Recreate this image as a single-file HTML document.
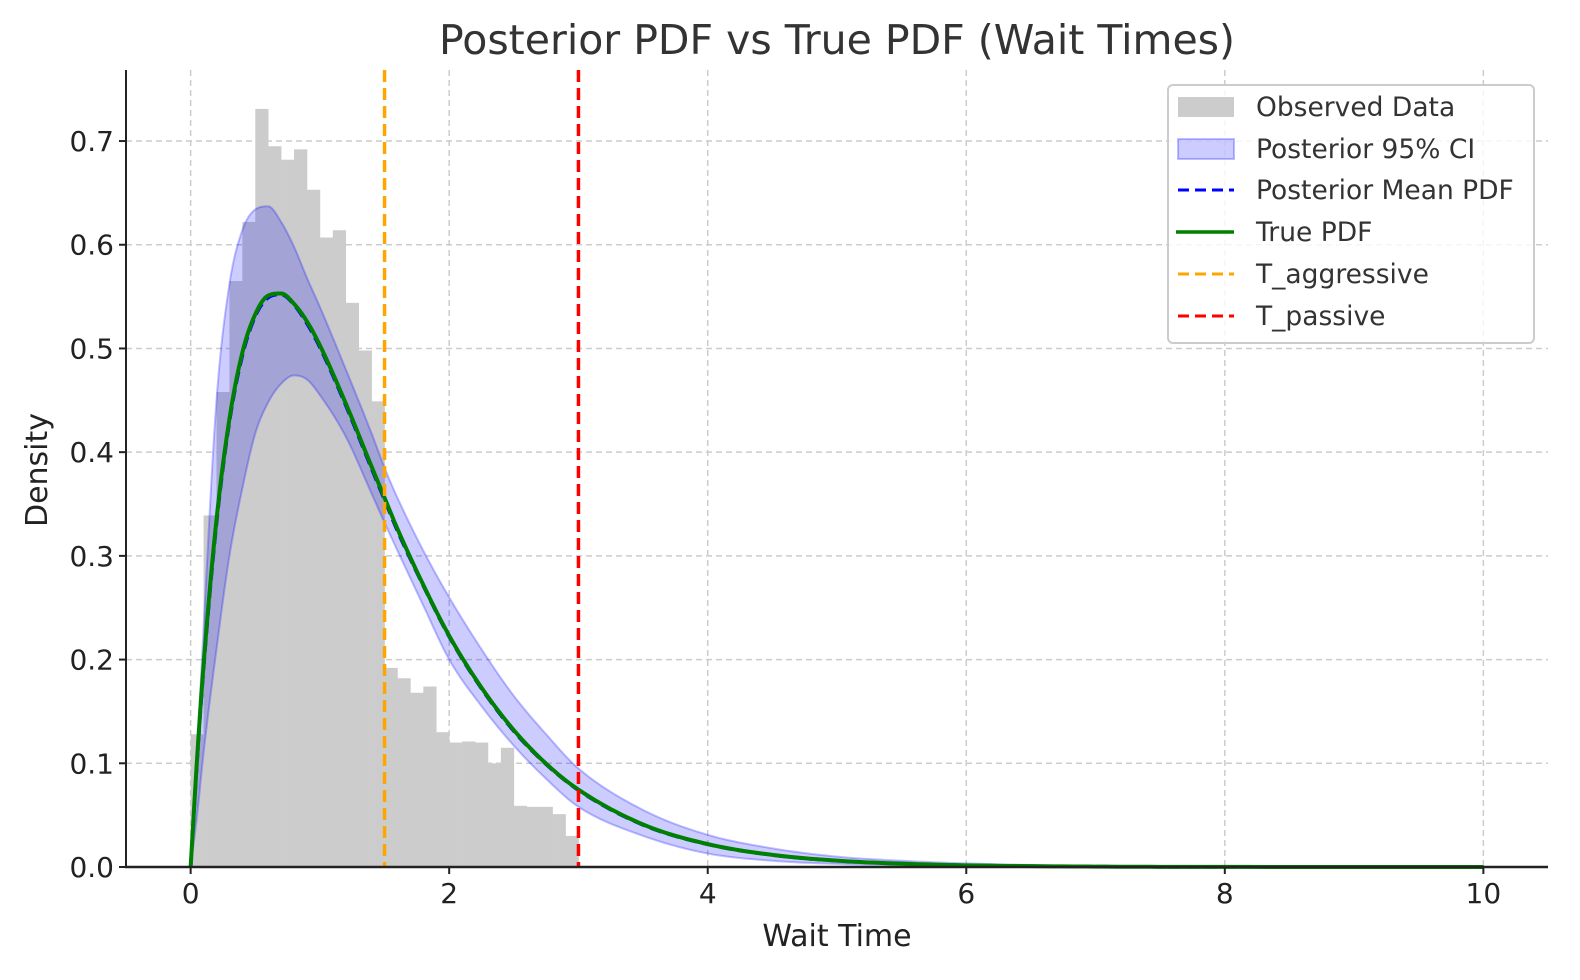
<!DOCTYPE html>
<html><head><meta charset="utf-8"><style>
html,body{margin:0;padding:0;background:#fff;}
svg{display:block;font-family:"DejaVu Sans","Liberation Sans",sans-serif;}
</style></head><body>
<svg id="chart" width="1580" height="980" viewBox="0 0 1580 980" xmlns="http://www.w3.org/2000/svg">
<text x="837" y="54" font-size="41" fill="#333" text-anchor="middle">Posterior PDF vs True PDF (Wait Times)</text>
<text x="837" y="946" font-size="30" fill="#222" text-anchor="middle">Wait Time</text>
<text x="47" y="470" font-size="30" fill="#222" text-anchor="middle" transform="rotate(-90 47 470)">Density</text>
<g id="grid"></g>
<g id="hist"></g>
<g id="band"></g>
<g id="lines"></g>
<g id="axes"></g>
<g id="legend">
<rect x="1168" y="85" width="366" height="258" rx="5" fill="#fff" fill-opacity="0.8" stroke="#ccc" stroke-width="2"/>
<rect x="1178" y="97" width="56" height="20" fill="#cccccc"/>
<text x="1256" y="116" font-size="26.5" fill="#333">Observed Data</text>
<rect x="1178" y="139" width="56" height="20" fill="rgba(0,0,255,0.2)" stroke="rgba(0,0,255,0.25)" stroke-width="2"/>
<text x="1256" y="158" font-size="26.5" fill="#333">Posterior 95% CI</text>
<line x1="1178" y1="190" x2="1234" y2="190" stroke="#0000ff" stroke-width="3" stroke-dasharray="11,6"/>
<text x="1256" y="199" font-size="26.5" fill="#333">Posterior Mean PDF</text>
<line x1="1176" y1="232" x2="1234" y2="232" stroke="#008000" stroke-width="3.5"/>
<text x="1256" y="241" font-size="26.5" fill="#333">True PDF</text>
<line x1="1178" y1="274" x2="1234" y2="274" stroke="#ffa500" stroke-width="3" stroke-dasharray="11,6"/>
<text x="1256" y="283" font-size="26.5" fill="#333">T_aggressive</text>
<line x1="1178" y1="316" x2="1234" y2="316" stroke="#ff0000" stroke-width="3" stroke-dasharray="11,6"/>
<text x="1256" y="325" font-size="26.5" fill="#333">T_passive</text>
</g>
</svg>
<script>
const binStart = 0, binWidth = 0.1;
const histHeights = [0.128,0.339,0.458,0.565,0.622,0.731,0.695,0.682,0.692,0.653,0.607,0.614,0.544,0.498,0.449,0.192,0.182,0.168,0.174,0.130,0.120,0.121,0.120,0.100,0.115,0.059,0.058,0.058,0.051,0.030];
const curveX = [0,0.05,0.1,0.2,0.3,0.4,0.5,0.6,0.7,0.8,0.9,1.0,1.2,1.4,1.5,1.6,1.8,2.0,2.25,2.5,2.75,3.0,3.5,4.0,4.5,5.0,5.5,6,7,8,10];
const truePdf = [0,0.105,0.195,0.335,0.432,0.496,0.533,0.551,0.553,0.543,0.526,0.503,0.447,0.386,0.356,0.326,0.272,0.223,0.173,0.132,0.0996,0.0746,0.041,0.0221,0.0117,0.0061,0.0032,0.0016,0.0004,0.0001,0];
const meanPdf = [0,0.102,0.191,0.331,0.429,0.493,0.531,0.549,0.552,0.542,0.524,0.501,0.445,0.384,0.354,0.324,0.271,0.222,0.172,0.131,0.099,0.074,0.0405,0.0218,0.0115,0.006,0.0031,0.0016,0.0004,0.0001,0];
const upperCI = [0,0.11,0.23,0.45,0.562,0.614,0.634,0.637,0.622,0.598,0.568,0.54,0.48,0.418,0.385,0.356,0.305,0.26,0.21,0.165,0.128,0.095,0.055,0.031,0.018,0.010,0.006,0.0035,0.001,0.0003,0];
const lowerCI = [0,0.05,0.11,0.21,0.30,0.365,0.418,0.448,0.466,0.474,0.470,0.455,0.415,0.36,0.332,0.305,0.252,0.20,0.155,0.117,0.085,0.058,0.030,0.013,0.006,0.003,0.0015,0.0007,0.0001,0,0];
const vlines = [1.5, 3.0];
const xTicks = [0,2,4,6,8,10];
const yTicks = [0,0.1,0.2,0.3,0.4,0.5,0.6,0.7];

const NS = "http://www.w3.org/2000/svg";
const L = 126, R = 1548, T = 70, B = 867;
const xMin = -0.5, xMax = 10.5, yMin = 0, yMax = 0.7685;
function sx(v){ return L + (v - xMin) / (xMax - xMin) * (R - L); }
function sy(v){ return B - (v - yMin) / (yMax - yMin) * (B - T); }
function mk(tag, attrs, parent){ const e = document.createElementNS(NS, tag); for (const k in attrs) e.setAttribute(k, attrs[k]); parent.appendChild(e); return e; }

function smoothPts(xs, ys){
  const n = xs.length, m = new Array(n), dlt = [];
  for (let i = 0; i < n - 1; i++) dlt.push((ys[i+1]-ys[i])/(xs[i+1]-xs[i]));
  m[0] = dlt[0]; m[n-1] = dlt[n-2];
  for (let i = 1; i < n - 1; i++) m[i] = (dlt[i-1]*dlt[i] <= 0) ? 0 : (dlt[i-1]+dlt[i])/2;
  for (let i = 0; i < n - 1; i++) {
    if (dlt[i] === 0) { m[i] = 0; m[i+1] = 0; continue; }
    const a = m[i]/dlt[i], b = m[i+1]/dlt[i], s = a*a + b*b;
    if (s > 9) { const t = 3/Math.sqrt(s); m[i] = t*a*dlt[i]; m[i+1] = t*b*dlt[i]; }
  }
  const out = [];
  for (let i = 0; i < n - 1; i++) {
    const h = xs[i+1]-xs[i], steps = 12;
    for (let k = 0; k < steps; k++) {
      const t = k/steps, t2 = t*t, t3 = t2*t;
      const y = (2*t3-3*t2+1)*ys[i] + (t3-2*t2+t)*h*m[i] + (-2*t3+3*t2)*ys[i+1] + (t3-t2)*h*m[i+1];
      out.push([xs[i] + t*h, y]);
    }
  }
  out.push([xs[n-1], ys[n-1]]);
  return out;
}

const grid = document.getElementById('grid');
xTicks.forEach(t => {
  const g = mk('line', {x1:sx(t), x2:sx(t), y1:T, y2:B, stroke:'#ccc', 'stroke-width':1.5, 'stroke-dasharray':'6,4'}, grid);
  
  
});
yTicks.forEach(t => {
  const g = mk('line', {x1:L, x2:R, y1:sy(t), y2:sy(t), stroke:'#ccc', 'stroke-width':1.5, 'stroke-dasharray':'6,4'}, grid);
  
  
});

const hist = document.getElementById('hist');
histHeights.forEach((h, i) => {
  const x0 = binStart + i * binWidth, x1 = x0 + binWidth;
  const r = mk('rect', {x:sx(x0), y:sy(h), width:sx(x1) - sx(x0) + 0.3, height:sy(0) - sy(h), fill:'#cccccc'}, hist);
  
  
});

function pathOf(ys){ return smoothPts(curveX, ys).map((p, i) => (i ? 'L' : 'M') + sx(p[0]).toFixed(2) + ',' + sy(p[1]).toFixed(2)).join(' '); }
const band = document.getElementById('band');
let d = pathOf(upperCI);
const lowPts = smoothPts(curveX, lowerCI).reverse();
lowPts.forEach(p => { d += ' L' + sx(p[0]).toFixed(2) + ',' + sy(p[1]).toFixed(2); });
const bp = mk('path', {d: d + ' Z', fill:'rgba(0,0,255,0.2)', stroke:'rgba(0,0,255,0.25)', 'stroke-width':2, 'stroke-linejoin':'round'}, band);



const lines = document.getElementById('lines');
const mp = mk('path', {d:pathOf(meanPdf), fill:'none', stroke:'#0000ff', 'stroke-width':3.5, 'stroke-dasharray':'12,6'}, lines);


const tp = mk('path', {d:pathOf(truePdf), fill:'none', stroke:'#008000', 'stroke-width':4, 'stroke-linejoin':'round'}, lines);


const vcol = ['#ffa500', '#ff0000'];
vlines.forEach((v, i) => {
  const l = mk('line', {x1:sx(v), x2:sx(v), y1:T, y2:B, stroke:vcol[i], 'stroke-width':3.5, 'stroke-dasharray':'12,6'}, lines);
  
  
});

const axes = document.getElementById('axes');
const ax1 = mk('line', {x1:L, x2:L, y1:T, y2:B + 1, stroke:'#222', 'stroke-width':2}, axes);


const ax2 = mk('line', {x1:L - 1, x2:R, y1:B, y2:B, stroke:'#222', 'stroke-width':2.5}, axes);


xTicks.forEach(t => {
  const tk = mk('line', {x1:sx(t), x2:sx(t), y1:B, y2:B + 7, stroke:'#222', 'stroke-width':2}, axes);
  
  
  const tx = mk('text', {x:sx(t), y:B + 36, 'font-size':28, fill:'#222', 'text-anchor':'middle'}, axes);
  tx.textContent = String(t);
  
  
});
yTicks.forEach(t => {
  const tk = mk('line', {x1:L - 7, x2:L, y1:sy(t), y2:sy(t), stroke:'#222', 'stroke-width':2}, axes);
  
  
  const tx = mk('text', {x:L - 12, y:sy(t) + 10, 'font-size':28, fill:'#222', 'text-anchor':'end'}, axes);
  tx.textContent = t.toFixed(1);
  
  
});
</script>
</body></html>
